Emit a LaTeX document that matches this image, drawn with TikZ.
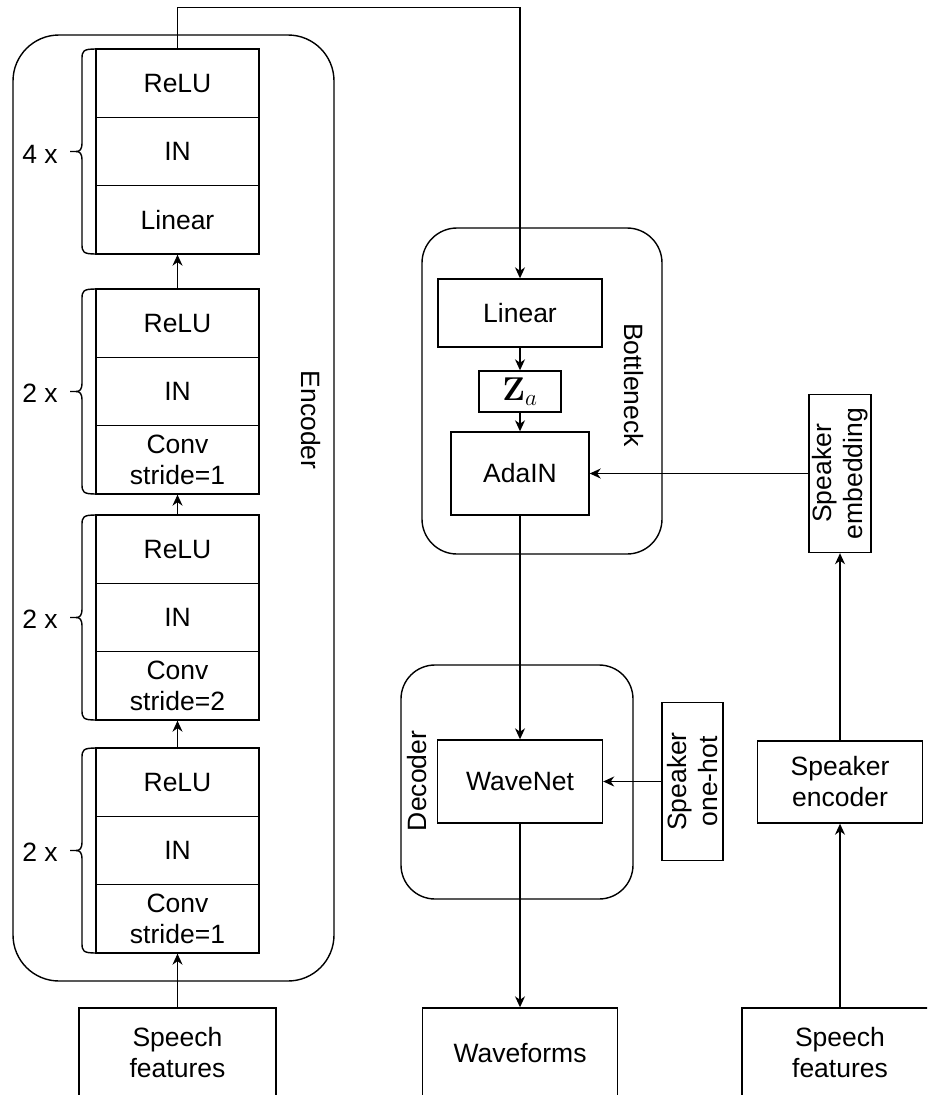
\documentclass[tikz,border=0pt]{standalone}
\usepackage{fix-cm}
\usepackage[no-math]{fontspec}
\setmainfont{Liberation Sans}
\usetikzlibrary{arrows.meta}

\begin{document}
\begin{tikzpicture}[x=1pt, y=-1pt,
  font=\fontsize{26.5}{31}\selectfont,
  line width=1.4pt,
  box/.style={draw, inner sep=0pt, align=center},
  cell/.style={box, minimum width=163pt, minimum height=68.33pt},
  group/.style={draw, inner sep=0pt, rounded corners=#1},
  arr/.style={-{Stealth[length=11pt, width=10pt, inset=3.5pt]}},
  lbl/.style={inner sep=0pt, align=center}]

\useasboundingbox (0,0) rectangle (927,1095);
\clip (0,0) rectangle (927,1095);

% ---------- Encoder ----------
\node[group=46pt, minimum width=321pt, minimum height=946pt] (enc) at (173.5,508) {};
\node[lbl, rotate=-90] (enclbl) at (311,420) {Encoder};

% block 1 (4 x)
\node[cell] (b1r) at (177.5,83.2)  {ReLU};
\node[cell] (b1n) at (177.5,151.5) {IN};
\node[cell] (b1l) at (177.5,219.8) {Linear};
% block 2 (2 x)
\node[cell] (b2r) at (177.5,323.2) {ReLU};
\node[cell] (b2n) at (177.5,391.5) {IN};
\node[cell] (b2c) at (177.5,459.8) {Conv\\stride=1};
% block 3 (2 x)
\node[cell] (b3r) at (177.5,549.2) {ReLU};
\node[cell] (b3n) at (177.5,617.5) {IN};
\node[cell] (b3c) at (177.5,685.8) {Conv\\stride=2};
% block 4 (2 x)
\node[cell] (b4r) at (177.5,782.2) {ReLU};
\node[cell] (b4n) at (177.5,850.5) {IN};
\node[cell] (b4c) at (177.5,918.8) {Conv\\stride=1};

% repetition braces
\foreach \t/\b in {49/254, 289/494, 515/720, 748/953}{
  \pgfmathsetmacro{\m}{(\t+\b)/2}
  \draw (96,\t) .. controls (83,\t) and (82,\t+2) .. (82,\t+10)
        -- (82,\m-9) .. controls (82,\m-2) and (80,\m) .. (76,\m) -- (70,\m);
  \draw (76,\m) .. controls (80,\m) and (82,\m+2) .. (82,\m+9)
        -- (82,\b-10) .. controls (82,\b-2) and (83,\b) .. (96,\b);
}
\node[lbl] (rep1) at (40,154) {4 x};
\node[lbl] (rep2) at (40,393) {2 x};
\node[lbl] (rep3) at (40,619) {2 x};
\node[lbl] (rep4) at (40,852) {2 x};

\node[box, minimum width=197pt, minimum height=90pt] (sf1) at (177.5,1053) {Speech\\features};

% ---------- Bottleneck ----------
\node[group=35pt, minimum width=240pt, minimum height=326pt] (bott) at (542,391) {};
\node[lbl, rotate=-90] (bottlbl) at (634,385) {Bottleneck};
\node[box, minimum width=164pt, minimum height=68pt] (lin) at (520,313) {Linear};
\node[box, minimum width=82pt, minimum height=41pt] (za) at (520,391.5) {\fontsize{33}{33}\selectfont$\mathbf{Z}_a$};
\node[box, minimum width=138pt, minimum height=83pt] (ada) at (520,473.5) {AdaIN};

% ---------- Decoder ----------
\node[group=34pt, minimum width=232pt, minimum height=234pt] (dec) at (517,782) {};
\node[lbl, rotate=90] (declbl) at (417,781) {Decoder};
\node[box, minimum width=165pt, minimum height=83pt] (wn) at (520,781.5) {WaveNet};
\node[box, minimum width=195pt, minimum height=90pt] (wf) at (520,1053) {Waveforms};

% ---------- Speaker branch ----------
\node[box, minimum width=158pt, minimum height=61pt, rotate=90] (oh) at (692.5,781.5) {Speaker\\one-hot};
\node[box, minimum width=158pt, minimum height=62pt, rotate=90] (emb) at (840,473.5) {Speaker\\embedding};
\node[box, minimum width=165pt, minimum height=82pt] (senc) at (840,782) {Speaker\\encoder};
\node[box, minimum width=196pt, minimum height=90pt] (sf2) at (840,1053) {Speech\\features};

% ---------- Connectors ----------
\draw[arr] (sf1.north) -- (b4c.south);
\draw[arr] (b4r.north) -- (b3c.south);
\draw[arr] (b3r.north) -- (b2c.south);
\draw[arr] (b2r.north) -- (b1l.south);
\draw[arr] (b1r.north) -- ++(0,-41) -| (lin.north);
\draw[arr] (lin.south) -- (za.north);
\draw[arr] (za.south) -- (ada.north);
\draw[arr] (emb.north) -- (ada.east);
\draw[arr] (ada.south) -- (wn.north);
\draw[arr] (oh.north) -- (wn.east);
\draw[arr] (wn.south) -- (wf.north);
\draw[arr] (senc.north) -- (emb.west);
\draw[arr] (sf2.north) -- (senc.south);

\end{tikzpicture}
\end{document}
